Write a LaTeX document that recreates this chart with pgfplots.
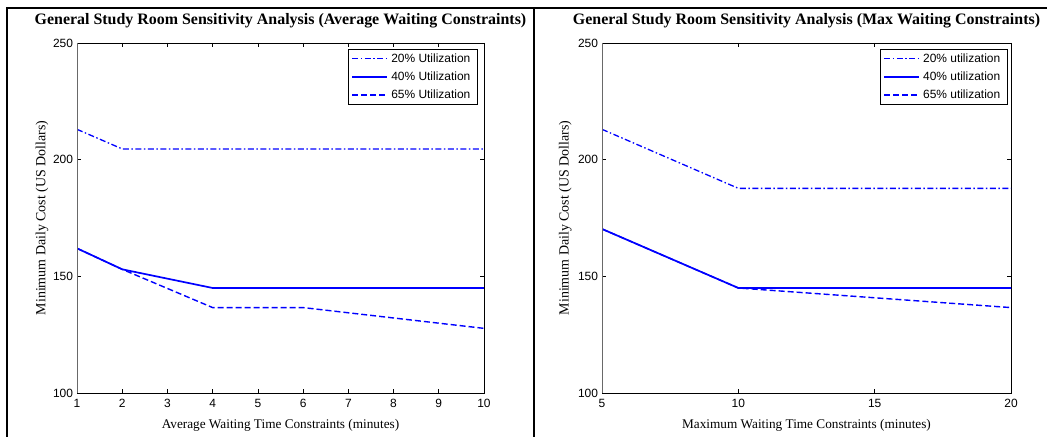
\documentclass[border=0pt]{standalone}
\usepackage{fontspec}
\setmainfont{Liberation Serif}
\newfontfamily\arial{Liberation Sans}
\usepackage{pgfplots}
\pgfplotsset{compat=1.18}
\definecolor{mblue}{RGB}{0,0,255}
\definecolor{spine}{RGB}{105,105,105}
\pgfplotsset{
  mystyle/.style={
    scale only axis, anchor=south west, height=350bp,
    ymin=100, ymax=250, ytick={100,150,200,250},
    tick align=inside, major tick length=4bp,
    tick style={black, line width=0.6bp},
    axis line style={black, line width=0.8bp},
    ticklabel style={font=\arial\fontsize{12}{13}\selectfont},
    xticklabel style={yshift=-2.5bp},
    yticklabel style={xshift=-0.5bp},
    /pgf/number format/assume math mode=true,
    xlabel style={font=\fontsize{13.3}{14}\selectfont, at={(axis description cs:0.5,0)}, anchor=base, yshift=-36bp},
    ylabel style={font=\fontsize{14}{15}\selectfont, anchor=center},
    title style={font=\bfseries\fontsize{16}{18}\selectfont, at={(axis description cs:0.5,1)}, anchor=base, yshift=12.5bp},
    legend style={font=\arial\fontsize{12}{13}\selectfont,
      inner xsep=3.5bp, inner ysep=0.5bp, row sep=0bp,
      nodes={inner xsep=3bp, inner ysep=4bp}, cells={anchor=west}},
    legend cell align=left,
  },
  ldd/.style={legend image code/.code={\draw[mblue, line width=1.3bp, dash pattern=on 6bp off 2.5bp on 1.5bp off 2.5bp] (0bp,0bp) -- (35bp,0bp);}},
  lso/.style={legend image code/.code={\draw[mblue, line width=1.7bp] (0bp,0bp) -- (35bp,0bp);}},
  lda/.style={legend image code/.code={\draw[mblue, line width=1.4bp, dash pattern=on 6bp off 3bp] (0bp,0bp) -- (35bp,0bp);}},
}
\begin{document}
\begin{tikzpicture}[x=1bp,y=1bp]
\useasboundingbox (0,0) rectangle (1047,437);
\draw[line width=1.2bp] (7,0) -- (7,429) -- (1047,429);
\draw[line width=2bp] (534,0) -- (534,429);
\begin{axis}[mystyle, at={(77bp,44bp)}, width=407bp,
  xmin=1, xmax=10, xtick={1,2,...,10},
  ylabel style={at={(axis description cs:-0.086,0.5)}},
  title={General Study Room Sensitivity Analysis (Average Waiting Constraints)},
  xlabel={Average Waiting Time Constraints (minutes)},
  ylabel={Minimum Daily Cost (US Dollars)},
  legend style={at={(axis description cs:0.983,0.983)}, anchor=north east},
]
\addplot[color=mblue, line width=1.3bp, dash pattern=on 6bp off 2.5bp on 1.5bp off 2.5bp, ldd] coordinates {(1,213) (2,204.6) (4,204.6) (6,204.6) (10,204.6)};
\addlegendentry{20\% Utilization}
\addplot[color=mblue, line width=1.7bp, lso] coordinates {(1,162) (2,153) (4,145) (6,145) (10,145)};
\addlegendentry{40\% Utilization}
\addplot[color=mblue, line width=1.4bp, dash pattern=on 6bp off 3bp, lda] coordinates {(1,162) (2,153) (4,136.6) (6,136.6) (10,127.7)};
\addlegendentry{65\% Utilization}
\draw[spine, line width=0.8bp] (rel axis cs:0,0) -- (rel axis cs:0,1);
\end{axis}
\begin{axis}[mystyle, at={(602bp,44bp)}, width=409bp,
  xmin=5, xmax=20, xtick={5,10,15,20},
  ylabel style={at={(axis description cs:-0.09,0.5)}},
  title={General Study Room Sensitivity Analysis (Max Waiting Constraints)},
  xlabel={Maximum Waiting Time Constraints (minutes)},
  ylabel={Minimum Daily Cost (US Dollars)},
  legend style={at={(axis description cs:0.99,0.983)}, anchor=north east},
]
\addplot[color=mblue, line width=1.3bp, dash pattern=on 6bp off 2.5bp on 1.5bp off 2.5bp, ldd] coordinates {(5,213) (10,187.7) (15,187.7) (20,187.7)};
\addlegendentry{20\% utilization}
\addplot[color=mblue, line width=1.7bp, lso] coordinates {(5,170.3) (10,145) (15,145) (20,145)};
\addlegendentry{40\% utilization}
\addplot[color=mblue, line width=1.4bp, dash pattern=on 6bp off 3bp, lda] coordinates {(5,170.3) (10,145) (15,140.8) (20,136.6)};
\addlegendentry{65\% utilization}
\draw[spine, line width=0.8bp] (rel axis cs:0,0) -- (rel axis cs:0,1);
\end{axis}
\end{tikzpicture}
\end{document}
